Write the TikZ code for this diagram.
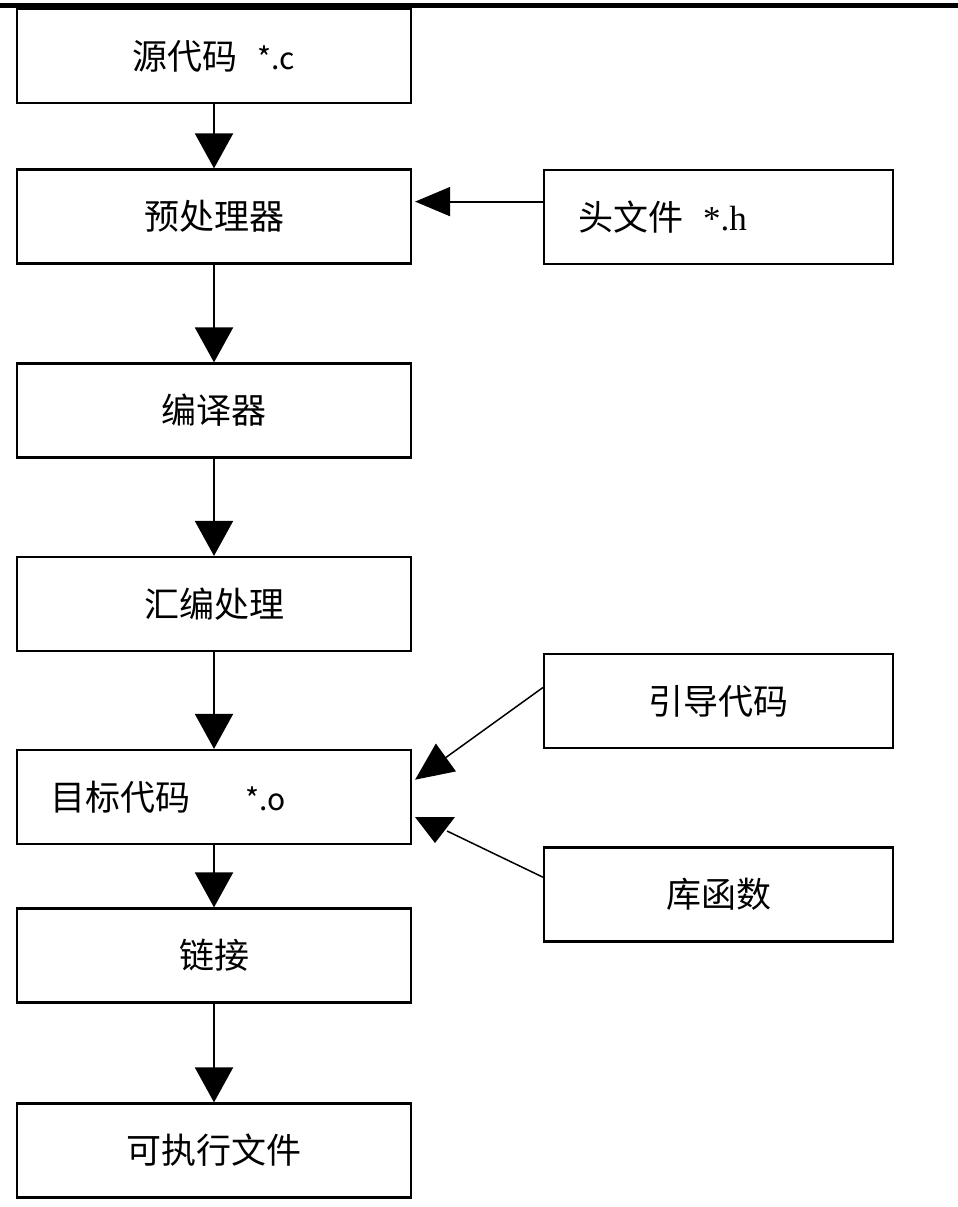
\documentclass[tikz,border=0pt]{standalone}
\usepackage{fontspec}
\newfontfamily\cjk{Noto Sans CJK SC}
\newfontfamily\lser{Liberation Serif}
\usetikzlibrary{arrows.meta,calc}
\tikzset{
  box/.style={draw=black, line width=2.2pt, minimum width=394pt, minimum height=94pt, inner sep=0pt, font=\cjk\fontsize{35}{40}\selectfont},
  rbox/.style={draw=black, line width=2.2pt, minimum width=349pt, minimum height=94pt, inner sep=0pt, font=\cjk\fontsize{35}{40}\selectfont},
  lbl/.style={font=\cjk\fontsize{35}{40}\selectfont, anchor=west, inner sep=0pt},
  arr/.style={line width=2pt, -{Triangle[length=35pt,width=38pt]}},
  harr/.style={line width=1.8pt, -{Triangle[length=35pt,width=29pt]}},
  darr/.style={line width=1.5pt, -{Triangle[length=38pt,width=34pt]}},
  dline/.style={line width=1.5pt}
}
\begin{document}
\begin{tikzpicture}[x=1pt,y=-1pt]
\useasboundingbox (0,0) rectangle (958,1207);
\fill[black] (0,3) rectangle (958,8);
% left column
\node[box] (b1) at (214,56) {源代码\hspace{20pt}{\fontsize{30}{36}\selectfont *.c}};
\node[box] (b2) at (214,216.5) {预处理器};
\node[box] (b3) at (214,410.5) {编译器};
\node[box] (b4) at (214,604) {汇编处理};
\node[box] (b5) at (214,797) {};
\node[lbl] (t5) at (50,797) {目标代码\hspace{55pt}{\fontsize{30}{36}\selectfont *.o}};
\node[box] (b6) at (214,955.5) {链接};
\node[box] (b7) at (214,1150.5) {可执行文件};
% right column
\node[rbox] (r1) at (718.5,217) {};
\node[lbl] (t1) at (578,217) {头文件\hspace{20pt}{\lser *.h}};
\node[rbox] (r2) at (718.5,701) {引导代码};
\node[rbox] (r3) at (718.5,894.5) {库函数};
% vertical arrows
\draw[arr] (b1) -- (b2);
\draw[arr] (b2) -- (b3);
\draw[arr] (b3) -- (b4);
\draw[arr] (b4) -- (b5);
\draw[arr] (b5) -- (b6);
\draw[arr] (b6) -- (b7);
% header file arrow
\coordinate (h1) at ($(r1.north west)!0.34!(r1.south west)$);
\draw[harr] (h1) -- ([xshift=3pt]b2.east |- h1);
% boot code arrow
\coordinate (g1) at ($(r2.north west)!0.36!(r2.south west)$);
\coordinate (g2) at ($(b5.north east)!0.32!(b5.south east)$);
\draw[darr] (g1) -- ([xshift=3pt]g2);
% library arrow (odd downward head)
\coordinate (k1) at ($(r3.north west)!0.32!(r3.south west)$);
\coordinate (k2) at (447,831);
\draw[dline] (k1) -- (k2);
\fill[black] (415,817) -- (455,817) -- (435,843) -- cycle;
\end{tikzpicture}
\end{document}
